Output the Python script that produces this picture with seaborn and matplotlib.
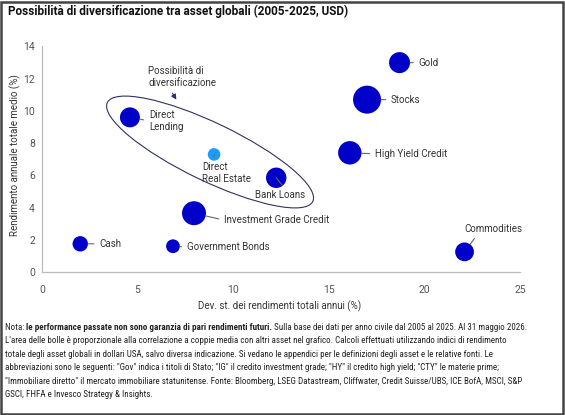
import numpy as np
import pandas as pd
import matplotlib
matplotlib.use("Agg")
import matplotlib.pyplot as plt
import matplotlib.transforms as mtransforms
from matplotlib.patches import Ellipse, Rectangle
import seaborn as sns

# Data
assets = ['Gold', 'Stocks', 'Direct\nLending', 'Direct\nReal Estate', 'High Yield Credit',
          'Bank Loans', 'Investment Grade Credit', 'Cash', 'Government Bonds', 'Commodities']
volatility = [18.7, 17.0, 4.6, 9.0, 16.1, 12.25, 7.95, 2.0, 6.85, 22.1]
avg_return = [13.0, 10.7, 9.6, 7.3, 7.4, 5.85, 3.65, 1.75, 1.6, 1.25]
bubble_area = [229, 406, 207, 82, 284, 216, 298, 123, 98, 183]
colors = ['#0000c8'] * 10
colors[3] = '#1a9cff'

# label offsets (points), alignment and where the leader line leaves the text
label_dx = [13.7, 17.3, 13.7, -8.6, 18.0, 2.9, 21.6, 13.7, 10.0, 21.0]
label_dy = [0, 0, -2.5, -13.3, -0.7, -12.4, -5.0, 0, -0.5, 16.8]
label_ha = ['left', 'left', 'left', 'left', 'left', 'center', 'left', 'left', 'left', 'center']
label_rel = [(0, 0.5), (0, 0.5), (0, 0.5), (0.25, 1), (0, 0.5),
             (0.62, 1), (0, 0.5), (0, 0.5), (0, 0.5), (0.23, 0)]

df = pd.DataFrame({'asset': assets, 'vol': volatility, 'ret': avg_return, 'area': bubble_area})

sns.set_style('white')
plt.rcParams['font.family'] = ['Roboto', 'DejaVu Sans']

fig = plt.figure(figsize=(5.65, 4.15), dpi=100)
ax = fig.add_axes([42 / 565, 1 - 272 / 415, 478 / 565, 225.5 / 415])

sns.scatterplot(data=df, x='vol', y='ret', hue='asset', size='asset',
                palette=dict(zip(assets, colors)), sizes=dict(zip(assets, bubble_area)),
                linewidth=0, legend=False, ax=ax, zorder=3, clip_on=False)

for i, name in enumerate(assets):
    r_pt = np.sqrt(bubble_area[i]) / 2
    ax.annotate(name, xy=(volatility[i], avg_return[i]), xytext=(label_dx[i], label_dy[i]),
                textcoords='offset points', ha=label_ha[i], va='center', fontsize=7,
                color='#333333',
                arrowprops=dict(arrowstyle='-', color='#666666', lw=0.8, relpos=label_rel[i],
                                shrinkA=1.5, shrinkB=r_pt))

# diversification ellipse (drawn in inches around a data-space centre)
ell_tr = fig.dpi_scale_trans + mtransforms.ScaledTranslation(8.79, 7.45, ax.transData)
ax.add_patch(Ellipse((0, 0), 2.28, 0.58, angle=-25.7, transform=ell_tr,
                     fill=False, edgecolor='#2e3266', lw=0.8, zorder=2))
ax.text(5.55, 12.1, 'Possibilità di\ndiversificazione', fontsize=7, color='#333333',
        ha='left', va='center')
ax.annotate('', xy=(7.1, 10.55), xytext=(6.75, 11.25),
            arrowprops=dict(arrowstyle='-|>,head_length=0.3,head_width=0.15',
                            color='#2e3266', lw=0.8))

ax.set_xlim(0, 25)
ax.set_ylim(0, 14)
ax.set_xticks(range(0, 26, 5))
ax.set_yticks(range(0, 15, 2))
ax.tick_params(length=0, labelsize=7.5, labelcolor='#555555')
ax.tick_params(axis='x', pad=9)
ax.tick_params(axis='y', pad=5)
sns.despine(ax=ax)
for side in ['left', 'bottom']:
    ax.spines[side].set_color('#bbbbbb')
    ax.spines[side].set_linewidth(0.9)

ax.set_xlabel('Dev. st. dei rendimenti totali annui (%)', fontsize=7, color='#333333', va='top')
ax.xaxis.set_label_coords(0.498, -0.125)
ax.set_ylabel('Rendimento annuale totale medio (%)', fontsize=7, color='#333333', va='center')
ax.yaxis.set_label_coords(-0.057, 0.52)

fig.text(8 / 565, 1 - 11 / 415, 'Possibilità di diversificazione tra asset globali (2005-2025, USD)',
         fontsize=8.5, fontweight='bold', color='#111111', va='center', ha='left')

# footnote
note_font = ['Liberation Sans Narrow', 'Roboto Condensed', 'Roboto', 'DejaVu Sans']
note_size = 6.5
note_lines = [
    "L'area delle bolle è proporzionale alla correlazione a coppie media con altri asset nel grafico. Calcoli effettuati utilizzando indici di rendimento",
    "totale degli asset globali in dollari USA, salvo diversa indicazione. Si vedano le appendici per le definizioni degli asset e le relative fonti. Le",
    'abbreviazioni sono le seguenti: "Gov" indica i titoli di Stato; "IG" il credito investment grade; "HY" il credito high yield; "CTY" le materie prime;',
    '"Immobiliare diretto" il mercato immobiliare statunitense. Fonte: Bloomberg, LSEG Datastream, Cliffwater, Credit Suisse/UBS, ICE BofA, MSCI, S&P',
    'GSCI, FHFA e Invesco Strategy & Insights.',
]
first_parts = [('Nota: ', 'normal'),
               ('le performance passate non sono garanzia di pari rendimenti futuri.', 'bold'),
               (' Sulla base dei dati per anno civile dal 2005 al 2025. Al 31 maggio 2026.', 'normal')]
renderer = fig.canvas.get_renderer()
x0 = 5 / 565
y0 = 1 - 327 / 415
for txt, wt in first_parts:
    t = fig.text(x0, y0, txt, fontsize=note_size, fontweight=wt, family=note_font,
                 color='#222222', va='center', ha='left')
    bb = t.get_window_extent(renderer=renderer)
    x0 += bb.width / fig.bbox.width
for k, line in enumerate(note_lines):
    fig.text(5 / 565, 1 - (327 + 13.5 * (k + 1)) / 415, line, fontsize=note_size,
             family=note_font, color='#222222', va='center', ha='left')

fig.patches.append(Rectangle((1 / 565, 1 / 415), 562 / 565, 412 / 415, transform=fig.transFigure,
                             fill=False, edgecolor='#444444', lw=1.8))

fig.savefig('out.png', dpi=100)
